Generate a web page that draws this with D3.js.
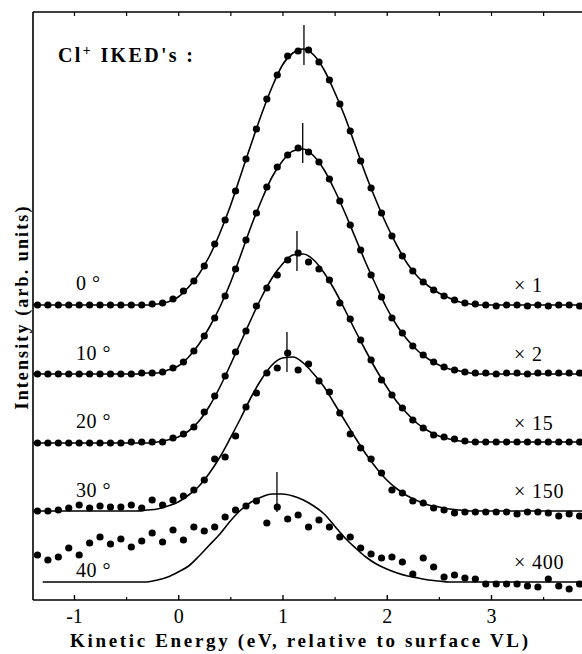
<!DOCTYPE html>
<html>
<head>
<meta charset="utf-8">
<script src="https://cdn.jsdelivr.net/npm/d3@7"></script>
<style>
  body { margin: 0; background: #fff; }
  text { font-family: 'Liberation Serif', 'Times New Roman', serif; fill: #000; }
</style>
</head>
<body>
<svg id="chart" width="582" height="654"></svg>
<script>
// measured points sit every 0.1 eV
let energy = [-1.35,-1.25,-1.15,-1.05,-0.95,-0.85,-0.75,-0.65,-0.55,-0.45,-0.35,-0.25,-0.15,-0.05,
  0.05,0.15,0.25,0.35,0.45,0.55,0.65,0.75,0.85,0.95,1.05,1.15,1.25,1.35,1.45,1.55,1.65,1.75,1.85,1.95,
  2.05,2.15,2.25,2.35,2.45,2.55,2.65,2.75,2.85,2.95,3.05,3.15,3.25,3.35,3.45,3.55,3.65,3.75,3.85]

// fitted curves are read on their own grid
let fitEnergy = [-1.4,-1.3,-1.2,-1.1,-1.0,-0.9,-0.8,-0.7,-0.6,-0.5,-0.4,-0.3,-0.2,-0.1,
  0,0.1,0.2,0.3,0.4,0.5,0.6,0.7,0.8,0.9,1.0,1.1,1.2,1.3,1.4,1.5,1.6,1.7,1.8,1.9,
  2.0,2.1,2.2,2.3,2.4,2.5,2.6,2.7,2.8,2.9,3.0,3.1,3.2,3.3,3.4,3.5,3.6,3.7,3.8,3.9]

let angles = ['0 °', '10 °', '20 °', '30 °', '40 °']
let factors = ['× 1', '× 2', '× 15', '× 150', '× 400']
let offsets = [295, 226, 157, 89, 18]   // vertical shift of each spectrum (arb. units)

let dots0 = [0,0,0,0,0,0,0,0,0,0,0, 1,2,6,14,24,39,61,85,114,146,176,206,230,249,254,255,243,225,201,174,
  144,117,92,69,49,34,23,15,9,5,2,1, 0,-1,0,0,-1,0,-1,0,0,-1]
let dots10 = [0,0,0,0,0,0,0,0,0,0, 1,1,2,6,12,23,38,56,78,105, 134,161,187,207,219,226,222,212,195,173,
  149,124,99,77,56,41,28,19,12,7, 4,2,1, 1,0,1,1,0,1,1,1,1,1]
let dots20 = [0,0,0,0,0,0,0,0,0, 1,1,1,1,5,9,16,31,47,67,91, 112,137,155,168,183,190,181,174,163,140,
  124,103,83,63,48,35,23,15,8,6, 4,2, 1,1,1,1,1,1,1,1,1,1,1]
let dots30 = [0,0,1,3,6,3,5,4,4,6, 3,11,6,11,15,21,31,52,54,75, 104,118,138,143,158,141,147,130,119,98,
  77,63,52,38,21,18,10,8,3,1, -2,-1,-1,-1,-1,-1,-3,-1,-1,-2, -5,-3,-5]
let dots40 = [27,22,25,34,27,39,45,38,43,35, 41,49,40,52,42,55,51,55,65,72, 76,81,59,75,63,67,55,62,55,45,
  45,34,28,24,25,20,8,24,15,5, 7,4,3,-2,-2,-2,-2,-4,-5,3, -4,-7,-2]

let fit0 = [0,0,0,0,0,0,0,0,0,0,0,0, 1,3,8,18,31,49,72,99,130,161, 191,218,240,252,256,250,235,213,188,159,
  130,104,80,59,41,28,19,12,7,3, 1, 0,0,0,0,0,0,0,0,0,0,0]
let fit10 = [0,0,0,0,0,0,0,0,0,0,0, 1,1,4,8,17,30,47,67,91,119, 148,174,197,213,223,225,218,204,184,161,
  136,111,88,66,48,34,23,15,9,5, 3,1, 0,0,0,0,0,0,0,0,0,0,0]
let fit20 = [0,0,0,0,0,0,0,0,0,0,0, 0,1,3,6,12,22,37,56,78,101, 124,146,165,179,188,189,183,170,153,133,
  112,92,73,56,41,29,19,12,7,4, 2,1, 1,1,1,1,1,1,1,1,1,1,1]
let fit30 = [0,0,0,0,0,0,0,0,0,0,0, 1,2,5,9,16,25,38,54,73,93, 114,132,146,153,154,148,137,124,107,90,
  73,57,43,31,22,15,10,6,4,2, 1,0, 0,0,0,0,0,0,0,0,0,0,0]
let fit40 = [null, 0,0,0,0,0,0,0,0,0,0,0, 2,5,10,16,26,37,48,61,72,80, 85,88,88,86,82,76,68,56,44,34,
  25,18,13,9,6,4,2,1, 0,0,0,0,0,0,0,0,0,0,0,0,0,0]

// peak markers (energy, absolute level)
let peakEnergy = [1.206, 1.194, 1.139, 1.043, 0.947]
let peakLevel = [555, 457, 349, 248, 108]

let xTicks = [-1, 0, 1, 2, 3]
let xMinorTicks = [-0.5, 0.5, 1.5, 2.5, 3.5]

let dotSeries = [dots0, dots10, dots20, dots30, dots40]
let fitSeries = [fit0, fit10, fit20, fit30, fit40]

let svg = d3.select('#chart')

let plotLeft = 33, plotRight = 582, plotTop = 12, plotBottom = 600

let x = d3.scaleLinear().domain([-1.393, 3.873]).range([plotLeft, plotRight])
let y = d3.scaleLinear().domain([0, 588]).range([plotBottom, plotTop])

svg.append('clipPath').attr('id', 'plot')
   .append('rect')
   .attr('x', plotLeft).attr('y', plotTop)
   .attr('width', plotRight - plotLeft).attr('height', plotBottom - plotTop)

// axes
let bottomAxis = svg.append('g')
   .attr('transform', `translate(0,${plotBottom})`)
   .call(d3.axisBottom(x).tickValues(xTicks).tickSize(-5).tickPadding(9).tickFormat(d => String(d)))
bottomAxis.select('.domain').remove()
bottomAxis.selectAll('line').attr('stroke-width', 1.4)
bottomAxis.selectAll('text')
   .attr('font-size', 20)
   .attr('font-family', "'Liberation Serif', serif")

let minorAxis = svg.append('g')
   .attr('transform', `translate(0,${plotBottom})`)
   .call(d3.axisBottom(x).tickValues(xMinorTicks).tickSize(-3).tickFormat(''))
minorAxis.select('.domain').remove()
minorAxis.selectAll('line').attr('stroke-width', 1.2)

let topAxis = svg.append('g')
   .attr('transform', `translate(0,${plotTop})`)
   .call(d3.axisTop(x).tickValues(xTicks.concat(xMinorTicks)).tickSize(-4).tickFormat(''))
topAxis.select('.domain').remove()
topAxis.selectAll('line').attr('stroke-width', 1.2)

svg.append('line')
   .attr('x1', plotLeft).attr('x2', plotRight).attr('y1', plotBottom).attr('y2', plotBottom)
   .attr('stroke', '#000').attr('stroke-width', 1.6)
svg.append('line')
   .attr('x1', plotLeft).attr('x2', plotRight).attr('y1', plotTop).attr('y2', plotTop)
   .attr('stroke', '#000').attr('stroke-width', 1.4)
svg.append('line')
   .attr('x1', plotLeft).attr('x2', plotLeft).attr('y1', plotTop).attr('y2', plotBottom)
   .attr('stroke', '#000').attr('stroke-width', 1.6)

let plot = svg.append('g').attr('clip-path', 'url(#plot)')

// fitted curves
let line = d3.line()
   .defined(d => d[1] !== null)
   .x(d => x(d[0]))
   .y(d => y(d[1]))
   .curve(d3.curveMonotoneX)

fitSeries.forEach((fit, i) => {
    plot.append('path')
        .datum(fit.map((v, k) => [fitEnergy[k], v === null ? null : v + offsets[i]]))
        .attr('d', line)
        .attr('fill', 'none')
        .attr('stroke', '#000')
        .attr('stroke-width', 1.6)
})

// measured points
dotSeries.forEach((dots, i) => {
    plot.append('g')
        .selectAll('circle')
        .data(dots)
        .enter()
        .append('circle')
        .attr('cx', (d, k) => x(energy[k]))
        .attr('cy', d => y(d + offsets[i]))
        .attr('r', 3.6)
        .attr('fill', '#000')
})

// peak markers
svg.append('g')
   .selectAll('line')
   .data(peakEnergy)
   .enter()
   .append('line')
   .attr('x1', d => x(d)).attr('x2', d => x(d))
   .attr('y1', (d, i) => y(peakLevel[i]) - 20)
   .attr('y2', (d, i) => y(peakLevel[i]) + 20)
   .attr('stroke', '#000')
   .attr('stroke-width', 1.3)

// angle and scale labels
let angleLift = [15, 14, 15, 14, 5]
svg.append('g')
   .selectAll('text')
   .data(angles)
   .enter()
   .append('text')
   .attr('x', 76)
   .attr('y', (d, i) => y(offsets[i]) - angleLift[i])
   .attr('font-size', 20)
   .attr('letter-spacing', 0.5)
   .text(d => d)

svg.append('g')
   .selectAll('text')
   .data(factors)
   .enter()
   .append('text')
   .attr('x', 514)
   .attr('y', (d, i) => y(offsets[i]) - 13.5)
   .attr('font-size', 20)
   .attr('letter-spacing', 0.8)
   .text(d => d)

// title
let title = svg.append('text')
   .attr('x', 58).attr('y', 62)
   .attr('font-size', 20)
   .attr('font-weight', 'bold')
   .attr('textLength', 135)
title.append('tspan').text('Cl')
title.append('tspan').attr('font-size', 14).attr('dy', -7).text('+')
title.append('tspan').attr('dy', 7).text(" IKED's :")

// axis titles
svg.append('text')
   .attr('x', 299).attr('y', 647)
   .attr('text-anchor', 'middle')
   .attr('font-size', 19)
   .attr('font-weight', 'bold')
   .attr('textLength', 458)
   .text('Kinetic Energy (eV, relative to surface VL)')

svg.append('text')
   .attr('transform', 'translate(28,308) rotate(-90)')
   .attr('text-anchor', 'middle')
   .attr('font-size', 18)
   .attr('font-weight', 'bold')
   .attr('textLength', 203)
   .text('Intensity (arb. units)')
</script>
</body>
</html>
